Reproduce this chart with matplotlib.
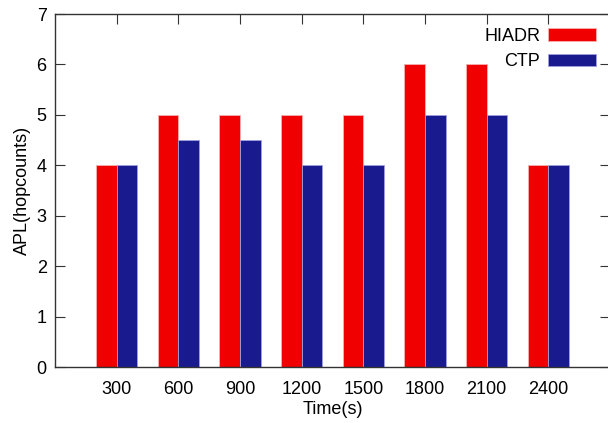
import numpy as np
import matplotlib
matplotlib.use('Agg')
import matplotlib.pyplot as plt

# data
times = ['300', '600', '900', '1200', '1500', '1800', '2100', '2400']
hiadr = [4, 5, 5, 5, 5, 6, 6, 4]
ctp = [4, 4.5, 4.5, 4, 4, 5, 5, 4]

plt.rcParams['font.family'] = ['Liberation Sans', 'DejaVu Sans']
plt.rcParams['font.size'] = 13

fig = plt.figure(figsize=(6.08, 4.23), dpi=100)
# axes box runs slightly past the right edge, as in the reference
ax = fig.add_axes([55 / 608, 1 - 367 / 423, 555 / 608, 353 / 423])

x = np.arange(len(times))
w = 1 / 3
ax.bar(x - w / 2, hiadr, w, color='#f00000', edgecolor='#f8b0b0', linewidth=0.6, label='HIADR')
ax.bar(x + w / 2, ctp, w, color='#1a1a8f', edgecolor='#a0a0e0', linewidth=0.6, label='CTP')

ax.set_xlim(-1, 8)
ax.set_ylim(0, 7)
ax.set_xticks(x)
ax.set_xticklabels(times)
ax.set_yticks(range(8))

for s in ax.spines.values():
    s.set_color('#333333')
    s.set_linewidth(1.0)

ax.tick_params(axis='y', direction='in', length=7, left=True, right=True, pad=6, color='#333333')
ax.tick_params(axis='x', direction='in', length=7, bottom=False, top=True, pad=10, color='#333333')

ax.set_xlabel('Time(s)', labelpad=2)
ax.set_ylabel('APL(hopcounts)', labelpad=4)

leg = ax.legend(loc='upper right', bbox_to_anchor=(541 / 555, 1 - 14 / 353), frameon=False,
                markerfirst=False, handlelength=2.65, handleheight=0.68,
                handletextpad=0.45, labelspacing=0.45, borderaxespad=0, borderpad=0)
for t in leg.get_texts():
    t.set_ha('right')

fig.savefig('out.png', dpi=100)
